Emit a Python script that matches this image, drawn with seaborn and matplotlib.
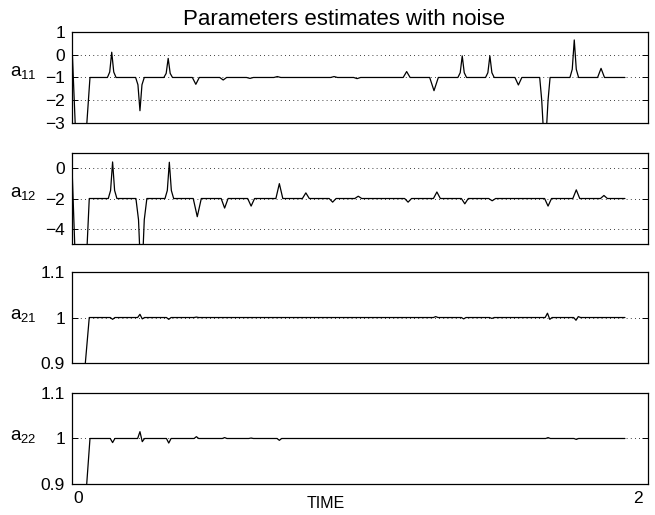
import matplotlib
matplotlib.use("Agg")
import matplotlib.pyplot as plt
import matplotlib.transforms as mtransforms
import pandas as pd
import seaborn as sns

# a11 estimate: breakpoints of the trace (time, value)
a11_time = [0.0, 0.012, 0.05, 0.0625,
            0.123, 0.131, 0.138, 0.145, 0.153,
            0.221, 0.229, 0.236, 0.243, 0.251,
            0.319, 0.327, 0.334, 0.341, 0.349,
            0.418, 0.430, 0.442,
            0.513, 0.525, 0.537,
            0.606, 0.618, 0.630,
            0.701, 0.713, 0.725,
            0.898, 0.910, 0.922,
            0.978, 0.990, 1.002,
            1.150, 1.162, 1.174,
            1.242, 1.257, 1.272,
            1.340, 1.348, 1.355, 1.362, 1.370,
            1.436, 1.444, 1.451, 1.458, 1.466,
            1.538, 1.550, 1.562,
            1.624, 1.631, 1.642, 1.653, 1.660,
            1.729, 1.737, 1.744, 1.751, 1.759,
            1.825, 1.837, 1.849,
            1.92]
a11_value = [0.43, -3.3, -3.3, -1.0,
             -1.0, -0.76, 0.11, -0.76, -1.0,
             -1.0, -1.32, -2.46, -1.32, -1.0,
             -1.0, -0.82, -0.16, -0.82, -1.0,
             -1.0, -1.30, -1.0,
             -1.0, -1.11, -1.0,
             -1.0, -1.04, -1.0,
             -1.0, -0.96, -1.0,
             -1.0, -0.96, -1.0,
             -1.0, -1.05, -1.0,
             -1.0, -0.74, -1.0,
             -1.0, -1.58, -1.0,
             -1.0, -0.79, -0.05, -0.79, -1.0,
             -1.0, -0.79, -0.05, -0.79, -1.0,
             -1.0, -1.33, -1.0,
             -1.0, -2.0, -4.5, -2.0, -1.0,
             -1.0, -0.64, 0.65, -0.64, -1.0,
             -1.0, -0.60, -1.0,
             -1.0]

# a12 estimate
a12_time = [0.0, 0.01, 0.052, 0.060,
            0.126, 0.134, 0.141, 0.148, 0.156,
            0.222, 0.231, 0.241, 0.251, 0.260,
            0.323, 0.331, 0.338, 0.345, 0.353,
            0.421, 0.435, 0.449,
            0.518, 0.530, 0.542,
            0.610, 0.622, 0.634,
            0.708, 0.720, 0.732,
            0.800, 0.812, 0.824,
            0.893, 0.905, 0.917,
            0.982, 0.994, 1.006,
            1.155, 1.167, 1.179,
            1.255, 1.267, 1.279,
            1.352, 1.364, 1.376,
            1.447, 1.459, 1.471,
            1.641, 1.653, 1.665,
            1.739, 1.751, 1.763,
            1.835, 1.847, 1.859,
            1.92]
a12_value = [0.1, -5.3, -5.3, -2.0,
             -2.0, -1.47, 0.41, -1.47, -2.0,
             -2.0, -3.4, -8.0, -3.4, -2.0,
             -2.0, -1.47, 0.39, -1.47, -2.0,
             -2.0, -3.2, -2.0,
             -2.0, -2.63, -2.0,
             -2.0, -2.5, -2.0,
             -2.0, -1.02, -2.0,
             -2.0, -1.63, -2.0,
             -2.0, -2.24, -2.0,
             -2.0, -1.85, -2.0,
             -2.0, -2.24, -2.0,
             -2.0, -1.57, -2.0,
             -2.0, -2.35, -2.0,
             -2.0, -2.15, -2.0,
             -2.0, -2.5, -2.0,
             -2.0, -1.43, -2.0,
             -2.0, -1.8, -2.0,
             -2.0]

# a21 estimate
a21_time = [0.0, 0.045, 0.060,
            0.133, 0.141, 0.149,
            0.228, 0.236, 0.244, 0.252,
            0.328, 0.336, 0.344,
            0.424, 0.432, 0.440,
            1.255, 1.263, 1.271,
            1.352, 1.360, 1.368,
            1.450, 1.458, 1.466,
            1.643, 1.651, 1.659, 1.667,
            1.742, 1.750, 1.758, 1.766,
            1.92]
a21_value = [0.85, 0.89, 1.0,
             1.0, 0.996, 1.0,
             1.0, 1.007, 0.997, 1.0,
             1.0, 0.996, 1.0,
             1.0, 1.001, 1.0,
             1.0, 1.002, 1.0,
             1.0, 0.997, 1.0,
             1.0, 0.998, 1.0,
             1.0, 1.0095, 0.996, 1.0,
             1.0, 0.994, 1.002, 1.0,
             1.0]

# a22 estimate
a22_time = [0.0, 0.05, 0.0625,
            0.133, 0.141, 0.149,
            0.228, 0.236, 0.244, 0.252,
            0.328, 0.336, 0.344,
            0.424, 0.432, 0.440,
            0.522, 0.530, 0.538,
            0.614, 0.622, 0.630,
            0.712, 0.720, 0.728,
            1.645, 1.653, 1.661,
            1.743, 1.751, 1.759,
            1.92]
a22_value = [0.85, 0.89, 1.0,
             1.0, 0.991, 1.0,
             1.0, 1.015, 0.993, 1.0,
             1.0, 0.99, 1.0,
             1.0, 1.004, 1.0,
             1.0, 1.002, 1.0,
             1.0, 1.001, 1.0,
             1.0, 0.996, 1.0,
             1.0, 1.002, 1.0,
             1.0, 0.998, 1.0,
             1.0]

labels = ["a$_{11}$", "a$_{12}$", "a$_{21}$", "a$_{22}$"]
ylims = [(-3, 1), (-5, 1), (0.9, 1.1), (0.9, 1.1)]
yticks = [[-3, -2, -1, 0, 1], [-4, -2, 0], [0.9, 1.0, 1.1], [0.9, 1.0, 1.1]]
yticklabels = [["\u22123", "\u22122", "\u22121", "0", "1"],
               ["\u22124", "\u22122", "0"],
               ["0.9", "1", "1.1"], ["0.9", "1", "1.1"]]

sns.set_theme(style="white")
plt.rcParams["font.family"] = ["Liberation Sans", "DejaVu Sans"]
plt.rcParams["mathtext.fontset"] = "custom"
plt.rcParams["mathtext.rm"] = "Liberation Sans"
plt.rcParams["mathtext.it"] = "Liberation Sans"
plt.rcParams["mathtext.default"] = "regular"
plt.rcParams["text.color"] = "black"
plt.rcParams["axes.labelcolor"] = "black"
plt.rcParams["xtick.color"] = "black"
plt.rcParams["ytick.color"] = "black"

series = [(a11_time, a11_value), (a12_time, a12_value),
          (a21_time, a21_value), (a22_time, a22_value)]

fig = plt.figure(figsize=(6.55, 5.15), dpi=100)
rects = [[0.1099, 0.7612, 0.8794, 0.1767],
         [0.1099, 0.5262, 0.8794, 0.1767],
         [0.1099, 0.2951, 0.8794, 0.1767],
         [0.1099, 0.0602, 0.8794, 0.1767]]

axes = []
for i, ((t, v), rect) in enumerate(zip(series, rects)):
    ax = fig.add_axes(rect)
    df = pd.DataFrame({"time": t, "value": v})
    sns.lineplot(data=df, x="time", y="value", ax=ax, color="black",
                 linewidth=0.9, estimator=None, sort=False)
    ax.set_xlim(0, 2)
    ax.set_ylim(*ylims[i])
    ax.set_yticks(yticks[i])
    ax.set_yticklabels(yticklabels[i])
    ax.set_xticks([0, 2])
    ax.tick_params(direction="in", left=True, right=True, top=True, bottom=True,
                   length=4, width=0.7, color="black", labelcolor="black",
                   labelsize=12.5, pad=5)
    ax.yaxis.grid(True, linestyle=(0, (1, 4)), color="black", linewidth=0.6)
    ax.xaxis.grid(False)
    for sp in ax.spines.values():
        sp.set_color("black")
        sp.set_linewidth(0.9)
    ax.set_ylabel(labels[i], rotation=0, fontsize=13.5, ha="center", va="center",
                  color="black")
    ax.yaxis.set_label_coords(-0.085, 0.55 if i < 2 else 0.52)
    ax.set_xlabel("")
    if i < 3:
        ax.set_xticklabels([])
    axes.append(ax)

axes[0].set_title("Parameters estimates with noise", fontsize=16, x=0.472, pad=5,
                  color="black")

ax4 = axes[3]
ax4.set_xticklabels(["0", "2"])
ax4.set_xlabel("TIME", fontsize=11.5, color="black")
ax4.xaxis.set_label_coords(0.441, -0.13)
for lbl, dx in zip(ax4.get_xticklabels(), [6, -10]):
    lbl.set_transform(lbl.get_transform() +
                      mtransforms.ScaledTranslation(dx / 100, 0, fig.dpi_scale_trans))

fig.savefig("out.png", dpi=100)
